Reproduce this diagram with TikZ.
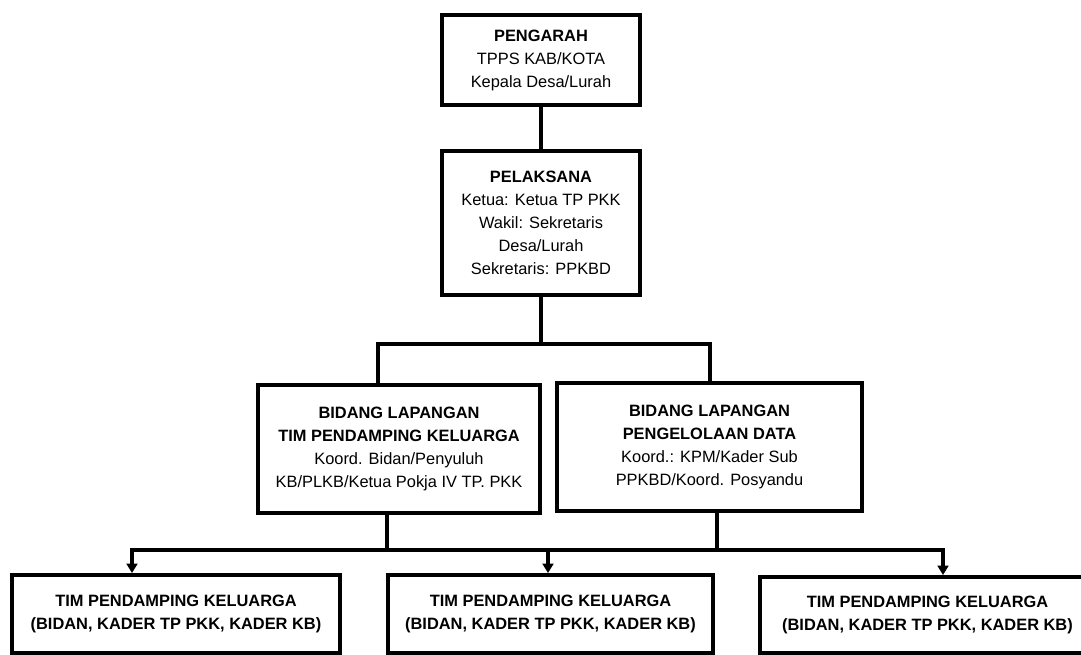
\documentclass[tikz,border=0pt]{standalone}
\usepackage{fontspec}
\setmainfont{Liberation Sans}
\usetikzlibrary{arrows.meta}
\begin{document}
\begin{tikzpicture}[x=0.75pt,y=-0.75pt,
  box/.style={draw, line width=2.9pt, rectangle, align=center, inner sep=0pt,
              font=\fontsize{12.3}{17.25}\selectfont},
  bbox/.style={box, font=\bfseries\fontsize{12.3}{17.25}\selectfont},
  conn/.style={line width=2.6pt, line cap=rect},
  arr/.style={line width=2.6pt, line cap=rect, -{Triangle[length=7pt,width=8pt]}}]
\useasboundingbox (0,0) rectangle (1081,655);
\clip (0,0) rectangle (1081,655);
\fill[white] (0,0) rectangle (1081,655);

\node[box, minimum width=148.5pt, minimum height=67.5pt] (pengarah) at (541,60)
  {\textbf{PENGARAH}\\TPPS KAB/KOTA\\Kepala Desa/Lurah};
\node[box, minimum width=148.5pt, minimum height=108pt] (pelaksana) at (541,223)
  {\textbf{PELAKSANA}\\Ketua: Ketua TP PKK\\Wakil: Sekretaris\\Desa/Lurah\\Sekretaris: PPKBD};
\node[box, minimum width=211.5pt, minimum height=96pt] (b1) at (399,449)
  {\textbf{BIDANG LAPANGAN}\\\textbf{TIM PENDAMPING KELUARGA}\\Koord. Bidan/Penyuluh\\KB/PLKB/Ketua Pokja IV TP. PKK};
\node[box, minimum width=228.75pt, minimum height=96pt] (b2) at (709.5,447)
  {\textbf{BIDANG LAPANGAN}\\\textbf{PENGELOLAAN DATA}\\Koord.: KPM/Kader Sub\\PPKBD/Koord. Posyandu};
\node[bbox, minimum width=246pt, minimum height=58.5pt] (t1) at (176,614)
  {TIM PENDAMPING KELUARGA\\(BIDAN, KADER TP PKK, KADER KB)};
\node[bbox, minimum width=243.75pt, minimum height=58.5pt] (t2) at (550.5,614)
  {TIM PENDAMPING KELUARGA\\(BIDAN, KADER TP PKK, KADER KB)};
\node[bbox, minimum width=251.25pt, minimum height=57pt] (t3) at (927.5,615)
  {TIM PENDAMPING KELUARGA\\(BIDAN, KADER TP PKK, KADER KB)};

\coordinate (j0) at (541,344);
\coordinate (jl) at (378,344);
\coordinate (jr) at (710,344);
\coordinate (kl) at (387,550);
\coordinate (kr) at (717,550);
\coordinate (ka) at (132,550);
\coordinate (kb) at (548,550);
\coordinate (kc) at (943,550);

\draw[conn] (pengarah.south) -- (pelaksana.north);
\draw[conn] (pelaksana.south) -- (j0);
\draw[conn] (jl |- b1.north) -- (jl) -- (jr) -- (jr |- b2.north);
\draw[conn] (kl |- b1.south) -- (kl);
\draw[conn] (kr |- b2.south) -- (kr);
\draw[conn] (ka) -- (kc);
\draw[arr] (ka) -- (ka |- t1.north);
\draw[arr] (kb) -- (kb |- t2.north);
\draw[arr] (kc) -- (kc |- t3.north);
\end{tikzpicture}
\end{document}
